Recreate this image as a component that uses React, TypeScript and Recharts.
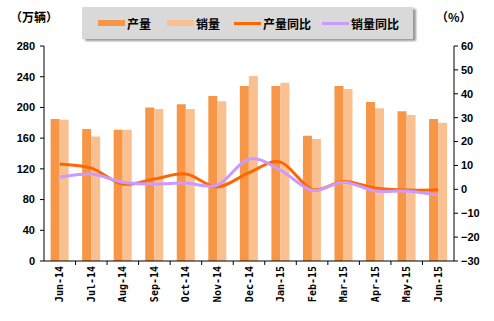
import { ComposedChart, Bar, Line, XAxis, YAxis, Legend } from "recharts"

const months = ["Jun-14", "Jul-14", "Aug-14", "Sep-14", "Oct-14", "Nov-14", "Dec-14", "Jan-15", "Feb-15", "Mar-15", "Apr-15", "May-15", "Jun-15"]
const output = [185, 172, 171, 200, 204, 215, 228, 228, 163, 228, 207, 195, 185]
const sales = [184, 162, 171, 198, 198, 208, 241, 232, 159, 224, 199, 190, 180]
const outputYoY = [10.6, 8.9, 2.2, 4.3, 6.4, 1, 7, 11.4, 0, 3.3, 0.6, -0.3, -0.2]
const salesYoY = [5.1, 6.4, 3, 2.2, 2.6, 1.8, 12.7, 8, -0.4, 3, -0.7, -0.7, -2.4]
const leftTicks = [0, 40, 80, 120, 160, 200, 240, 280]
const rightTicks = [-30, -20, -10, 0, 10, 20, 30, 40, 50, 60]

const data = months.map((m, i) => ({
  month: m,
  output: output[i],
  sales: sales[i],
  outputYoY: outputYoY[i],
  salesYoY: salesYoY[i],
}))

const legendItems = [
  { name: "产量", color: "#F79646", kind: "bar" },
  { name: "销量", color: "#FAC090", kind: "bar" },
  { name: "产量同比", color: "#FF6600", kind: "line" },
  { name: "销量同比", color: "#CC99FF", kind: "line" },
]

const W = 494
const H = 321
const bandHalf = (454 - 44) / months.length / 2

const axisFont = { fontFamily: "'Liberation Sans', Arial, sans-serif", fontSize: 11, fontWeight: 700, fill: "#000" }
const cjk = "'Noto Sans CJK SC', sans-serif"

// excel-style smoothing (catmull-rom through the points)
function smoothCurve(context: any) {
  let pts: number[][] = []
  return {
    areaStart() {},
    areaEnd() {},
    lineStart() {
      pts = []
    },
    point(x: number, y: number) {
      pts.push([+x, +y])
    },
    lineEnd() {
      const n = pts.length
      if (!n) return
      context.moveTo(pts[0][0], pts[0][1])
      for (let i = 0; i < n - 1; i++) {
        const p0 = pts[Math.max(i - 1, 0)]
        const p1 = pts[i]
        const p2 = pts[i + 1]
        const p3 = pts[Math.min(i + 2, n - 1)]
        context.bezierCurveTo(
          p1[0] + (p2[0] - p0[0]) / 6,
          p1[1] + (p2[1] - p0[1]) / 6,
          p2[0] - (p3[0] - p1[0]) / 6,
          p2[1] - (p3[1] - p1[1]) / 6,
          p2[0],
          p2[1]
        )
      }
    },
  }
}

function MonthTick({ x, y, payload, index }: any) {
  return (
    <g>
      {index < months.length - 1 && (
        <line x1={x + bandHalf} x2={x + bandHalf} y1={y} y2={y + 4} stroke="#000" />
      )}
      <text
        x={x}
        y={y + 5}
        transform={`rotate(-90, ${x}, ${y + 5})`}
        textAnchor="end"
        dy="0.35em"
        style={{ fontFamily: "'DejaVu Sans Mono', monospace", fontSize: 10, fontWeight: 700 }}
        fill="#000"
      >
        {payload.value}
      </text>
    </g>
  )
}

function LegendBox() {
  return (
    <div
      style={{
        background: "#D9D9D9",
        boxShadow: "3px 2px 2px #9a9a9a",
        height: 32,
        display: "flex",
        alignItems: "center",
        paddingLeft: 16,
        boxSizing: "border-box",
        fontFamily: cjk,
        fontWeight: 700,
        fontSize: 12,
        color: "#000",
      }}
    >
      {legendItems.map((it, i) => (
        <div key={it.name} style={{ display: "flex", alignItems: "center", marginRight: i === 0 ? 16 : i === 1 ? 14 : 11 }}>
          <span
            style={{
              display: "inline-block",
              width: 27,
              height: it.kind === "bar" ? 6 : 3,
              background: it.color,
              marginRight: 2,
            }}
          />
          <span>{it.name}</span>
        </div>
      ))}
    </div>
  )
}

export default function App() {
  return (
    <div style={{ position: "relative", width: W, height: H, background: "#fff" }}>
      <style>{`body{margin:0}`}</style>
      <div style={{ position: "absolute", left: 10, top: 8, fontFamily: cjk, fontWeight: 700, fontSize: 12 }}>（万辆）</div>
      <div style={{ position: "absolute", left: 436, top: 8, fontFamily: cjk, fontWeight: 700, fontSize: 12 }}>（%）</div>
      <ComposedChart
        width={W}
        height={H}
        data={data}
        margin={{ top: 46, right: 0, bottom: 5, left: 0 }}
        barGap={0}
        barCategoryGap="21%"
      >
        <XAxis
          dataKey="month"
          interval={0}
          height={55}
          tickLine={false}
          tickSize={0}
          tickMargin={0}
          axisLine={{ stroke: "#000" }}
          tick={<MonthTick />}
        />
        <YAxis
          yAxisId="left"
          domain={[0, 280]}
          ticks={leftTicks}
          width={44}
          interval={0}
          tickSize={4}
          tickMargin={5}
          axisLine={{ stroke: "#000" }}
          tickLine={{ stroke: "#000" }}
          tick={axisFont}
        />
        <YAxis
          yAxisId="right"
          orientation="right"
          domain={[-30, 60]}
          ticks={rightTicks}
          width={40}
          interval={0}
          tickSize={4}
          tickMargin={3}
          axisLine={{ stroke: "#000" }}
          tickLine={{ stroke: "#000" }}
          tick={axisFont}
          tickFormatter={(v: number) => (v < 0 ? `\u2212${-v}` : `${v}`)}
        />
        <Legend
          verticalAlign="middle"
          align="center"
          content={() => <LegendBox />}
          wrapperStyle={{ position: "absolute", top: 7, left: 82, width: 331, height: 32 }}
        />
        <Bar yAxisId="left" dataKey="output" name="产量" fill="#F79646" isAnimationActive={false} />
        <Bar yAxisId="left" dataKey="sales" name="销量" fill="#FAC090" isAnimationActive={false} />
        <Line
          yAxisId="right"
          type={smoothCurve as any}
          dataKey="outputYoY"
          name="产量同比"
          stroke="#FF6600"
          strokeWidth={3}
          dot={false}
          isAnimationActive={false}
        />
        <Line
          yAxisId="right"
          type={smoothCurve as any}
          dataKey="salesYoY"
          name="销量同比"
          stroke="#CC99FF"
          strokeWidth={3}
          dot={false}
          isAnimationActive={false}
        />
      </ComposedChart>
    </div>
  )
}
